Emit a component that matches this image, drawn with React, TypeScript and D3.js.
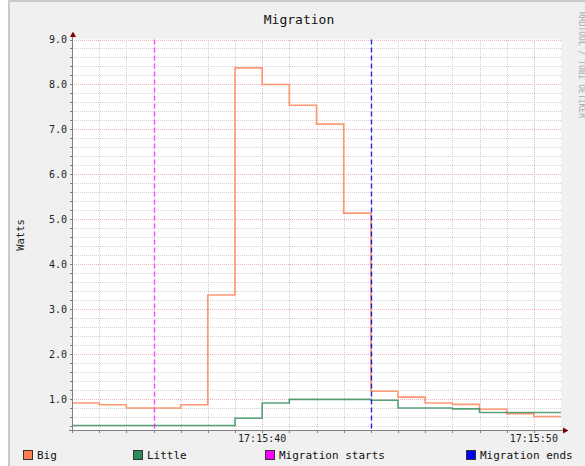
import * as d3 from "d3";

// step start times (last entry closes the final step)
const times = [
  "17:15:33", "17:15:34", "17:15:35", "17:15:36", "17:15:37", "17:15:38",
  "17:15:39", "17:15:40", "17:15:41", "17:15:42", "17:15:43", "17:15:44",
  "17:15:45", "17:15:46", "17:15:47", "17:15:48", "17:15:49", "17:15:50",
  "17:15:51",
];
const bigWatts = [
  0.92, 0.88, 0.81, 0.81, 0.88, 3.32, 8.37, 8.0, 7.54, 7.12, 5.14, 1.18,
  1.05, 0.92, 0.89, 0.78, 0.68, 0.62,
];
const littleWatts = [
  0.42, 0.42, 0.42, 0.42, 0.42, 0.42, 0.58, 0.92, 1.0, 1.0, 1.0, 0.98,
  0.81, 0.81, 0.79, 0.71, 0.71, 0.71,
];
const ruleTimes = ["17:15:36", "17:15:44"];
const ruleLabels = ["Migration starts", "Migration ends"];
const seriesLabels = ["Big", "Little"];
const yLabelTicks = [1, 2, 3, 4, 5, 6, 7, 8, 9];

const W = 585;
const H = 466;
const left = 72;
const right = 561;
const top = 39.5;
const bottom = 430;

const font = "'DejaVu Sans Mono', monospace";
const seriesColors = ["#ff7f50", "#2e8b57"];
const ruleColors = ["#ff00ff", "#0000ff"];

export default function App() {
  const parse = d3.timeParse("%H:%M:%S");
  const t0 = parse(times[0]) as Date;
  const t1 = parse(times[times.length - 1]) as Date;

  const x = d3.scaleTime().domain([t0, t1]).range([left, right]);
  const y = d3.scaleLinear().domain([0.32, 9]).range([bottom, top]);

  const line = d3
    .line<[Date, number]>()
    .x((d) => x(d[0]))
    .y((d) => y(d[1]))
    .curve(d3.curveStepAfter);

  const pts = (vals: number[]) =>
    times.map((t, i) => [parse(t) as Date, vals[Math.min(i, vals.length - 1)]] as [Date, number]);

  const px = (v: number) => Math.round(v) + 0.5;

  const secTicks = x.ticks(d3.timeSecond.every(1) as any).filter((d) => +d > +t0 && +d < +t1);
  const majorX = secTicks.filter((d) => d.getSeconds() % 10 === 0);
  const minorX = secTicks.filter((d) => d.getSeconds() % 10 !== 0);
  const minorY = d3.range(0.4, 8.99, 0.2).filter((v) => Math.abs(v - Math.round(v)) > 0.01);
  const fmt = d3.timeFormat("%H:%M:%S");

  const legendX = [23, 133, 265, 466];
  const legendItems = [
    ...seriesLabels.map((l, i) => ({ label: l, color: seriesColors[i] })),
    ...ruleLabels.map((l, i) => ({ label: l, color: ruleColors[i] })),
  ];

  return (
    <svg
      width={W}
      height={H}
      style={{ position: "absolute", left: 0, top: 0, display: "block" }}
    >
      <rect x={0} y={0} width={W} height={H} fill="#ffffff" />
      <rect x={8} y={0} width={W - 8} height={H} fill="#f0f0f0" />
      <rect x={8} y={0} width={W - 8} height={2} fill="#cbcbcb" />
      <rect x={8} y={0} width={2} height={H} fill="#cbcbcb" />

      {/* canvas */}
      <rect x={left} y={top} width={right - left} height={bottom - top} fill="#ffffff" />

      {/* minor grid */}
      <g stroke="#d2d2d2" strokeWidth={1} strokeDasharray="1,1" shapeRendering="crispEdges">
        {minorY.map((v, i) => (
          <line key={"my" + i} x1={left} x2={right} y1={px(y(v))} y2={px(y(v))} />
        ))}
        {minorX.map((d, i) => (
          <line key={"mx" + i} x1={px(x(d))} x2={px(x(d))} y1={top} y2={bottom} />
        ))}
      </g>
      {/* major grid */}
      <g stroke="#f2b4b4" strokeWidth={1} strokeDasharray="1,1" shapeRendering="crispEdges">
        {yLabelTicks.map((v) => (
          <line key={"My" + v} x1={left} x2={right} y1={px(y(v))} y2={px(y(v))} />
        ))}
        {majorX.map((d, i) => (
          <line key={"Mx" + i} x1={px(x(d))} x2={px(x(d))} y1={top} y2={bottom} />
        ))}
      </g>

      {/* series */}
      {[bigWatts, littleWatts].map((vals, i) => (
        <path
          key={"s" + i}
          d={line(pts(vals)) || ""}
          fill="none"
          stroke={seriesColors[i]}
          strokeOpacity={0.8}
          strokeWidth={1.6}
        />
      ))}

      {/* vertical rules */}
      {ruleTimes.map((t, i) => {
        const xx = px(x(parse(t) as Date));
        return (
          <line
            key={"r" + i}
            x1={xx}
            x2={xx}
            y1={top}
            y2={bottom}
            stroke={ruleColors[i]}
            strokeOpacity={i === 0 ? 0.7 : 0.85}
            strokeWidth={1.4}
            strokeDasharray="5,3"
          />
        );
      })}

      {/* axes */}
      <g stroke="#808080" strokeWidth={1} shapeRendering="crispEdges">
        <line x1={72.5} x2={72.5} y1={bottom + 3} y2={35} />
        <line x1={69} x2={564} y1={bottom + 0.5} y2={bottom + 0.5} />
        {secTicks.map((d, i) => (
          <line key={"tx" + i} x1={px(x(d))} x2={px(x(d))} y1={bottom} y2={bottom + 3} />
        ))}
        {[...minorY, ...yLabelTicks].map((v, i) => (
          <line key={"ty" + i} x1={70} x2={72} y1={px(y(v))} y2={px(y(v))} />
        ))}
      </g>
      <polygon points="70,37 76,37 73,31.5" fill="#7f0000" />
      <polygon points="563,427.5 563,433.5 568.5,430.5" fill="#7f0000" />

      {/* y labels */}
      <g fontFamily={font} fontSize={10} fill="#222" textAnchor="end">
        {yLabelTicks.map((v) => (
          <text key={"yl" + v} x={67} y={y(v) + 3.5}>
            {v.toFixed(1)}
          </text>
        ))}
      </g>
      {/* x labels */}
      <g fontFamily={font} fontSize={10} fill="#222" textAnchor="middle">
        {majorX.map((d, i) => (
          <text key={"xl" + i} x={x(d)} y={442}>
            {fmt(d)}
          </text>
        ))}
      </g>

      <text
        x={20}
        y={235}
        transform="rotate(-90 20 235)"
        fontFamily={font}
        fontSize={10.5}
        fill="#222"
        textAnchor="middle"
        dominantBaseline="central"
      >
        Watts
      </text>

      <text x={299} y={24} fontFamily={font} fontSize={13} fill="#111" textAnchor="middle">
        Migration
      </text>

      <text
        x={581}
        y={12}
        transform="rotate(90 581 12)"
        fontFamily={font}
        fontSize={8}
        fill="#a8a8a8"
        dominantBaseline="central"
      >
        RRDTOOL / TOBI OETIKER
      </text>

      {/* legend */}
      <g fontFamily={font} fontSize={11} fill="#111">
        {legendItems.map((it, i) => (
          <g key={"lg" + i}>
            <rect
              x={legendX[i] + 0.5}
              y={450.5}
              width={9}
              height={9}
              fill={it.color}
              stroke="#333"
              strokeWidth={1}
            />
            <text x={legendX[i] + 14} y={459}>
              {it.label}
            </text>
          </g>
        ))}
      </g>
    </svg>
  );
}
